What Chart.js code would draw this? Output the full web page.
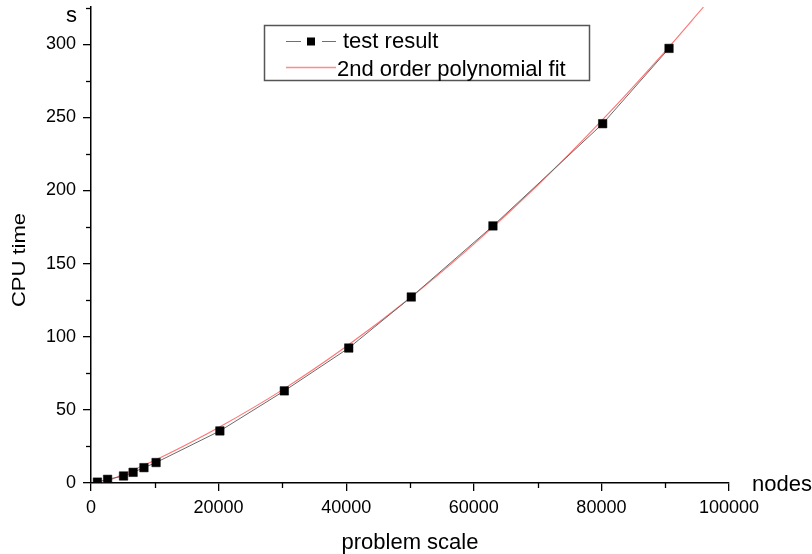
<!DOCTYPE html>
<html><head><meta charset="utf-8">
<script src="https://cdn.jsdelivr.net/npm/chart.js@4.4.0/dist/chart.umd.min.js"></script>
<style>html,body{margin:0;padding:0;background:#fff;} #wrap{width:812px;height:554px;}</style>
</head><body><div id="wrap"><canvas id="c" width="812" height="554"></canvas></div>
<script>
const testNodes = [1000, 2600, 5100, 6600, 8300, 10200, 20200, 30300, 40400, 50200, 63000, 80200, 90600];
const testTime  = [0.6, 2.5, 4.8, 7.3, 10.5, 14.0, 35.6, 63.0, 92.3, 127.2, 175.8, 245.7, 297.2];
const fitNodes  = [1800, 5000, 10000, 15000, 20000, 30000, 40000, 50000, 60000, 70000, 80000, 90000, 96000];
const fitTime   = [0, 5.8, 15.5, 26.3, 37.9, 63.7, 93.3, 126.5, 163.3, 203.6, 247.6, 295.2, 325.5];
const xTicks = [0, 20000, 40000, 60000, 80000, 100000];
const yTicks = [0, 50, 100, 150, 200, 250, 300];
const xMinor = [10000, 30000, 50000, 70000, 90000];
const yMinor = [25, 75, 125, 175, 225, 275, 325];
const legendLabels = ['test result', '2nd order polynomial fit'];
const FONT = '"Liberation Sans", Arial, sans-serif';

const decor = {
  id: 'decor',
  afterDraw(chart) {
    const c = chart.ctx, xs = chart.scales.x, ys = chart.scales.y;
    c.save();
    c.strokeStyle = '#000'; c.lineWidth = 1.3;
    xMinor.forEach(v => { const px = Math.round(xs.getPixelForValue(v)) + 0.5; c.beginPath(); c.moveTo(px, xs.top); c.lineTo(px, xs.top + 5); c.stroke(); });
    yMinor.forEach(v => { const py = Math.round(ys.getPixelForValue(v)) + 0.5; c.beginPath(); c.moveTo(ys.right, py); c.lineTo(ys.right - 5, py); c.stroke(); });
    c.fillStyle = '#000';
    c.font = '22px ' + FONT;
    c.textAlign = 'right'; c.textBaseline = 'alphabetic';
    c.fillText('s', ys.right - 14, ys.top + 15);
    c.textAlign = 'left';
    c.fillText('nodes', xs.right + 23, xs.top + 8);
    c.save();
    c.translate(19.7, (ys.top + ys.bottom) / 2 + 15);
    c.rotate(-Math.PI / 2);
    c.scale(1, 0.8);
    c.textAlign = 'center'; c.textBaseline = 'middle';
    c.fillText('CPU time', 0, 0);
    c.restore();
    // legend
    c.strokeStyle = '#555'; c.lineWidth = 1.5;
    c.strokeRect(264.5, 25.5, 325, 55);
    c.strokeStyle = '#707070'; c.lineWidth = 1;
    c.beginPath(); c.moveTo(286, 41.5); c.lineTo(301, 41.5); c.moveTo(322, 41.5); c.lineTo(336, 41.5); c.stroke();
    c.fillStyle = '#000'; c.fillRect(307, 37.5, 8, 8);
    c.strokeStyle = 'rgba(255,120,120,0.85)'; c.lineWidth = 1.3;
    c.beginPath(); c.moveTo(286, 67.5); c.lineTo(336, 67.5); c.stroke();
    c.fillStyle = '#000'; c.textAlign = 'left'; c.textBaseline = 'alphabetic';
    c.fillText(legendLabels[0], 343, 48);
    c.fillText(legendLabels[1], 337, 76);
    c.restore();
  }
};

new Chart(document.getElementById('c'), {
  type: 'scatter',
  data: { datasets: [
    { label: legendLabels[0], data: testNodes.map((x, i) => ({ x, y: testTime[i] })), showLine: true,
      borderColor: '#6a6a6a', borderWidth: 1, pointStyle: 'rect', pointRadius: 6,
      pointBackgroundColor: '#000', pointBorderColor: '#000', pointBorderWidth: 0.5, order: 0 },
    { label: legendLabels[1], data: fitNodes.map((x, i) => ({ x, y: fitTime[i] })), showLine: true,
      borderColor: 'rgba(255,90,90,0.85)', borderWidth: 1.1, pointRadius: 0, cubicInterpolationMode: 'monotone', order: 1 }
  ]},
  options: {
    responsive: false, animation: false, devicePixelRatio: 1,
    layout: { padding: { top: 7, right: 83, left: 0, bottom: 0 } },
    plugins: { legend: { display: false }, tooltip: { enabled: false } },
    scales: {
      x: { type: 'linear', min: 0, max: 100000,
        afterBuildTicks: s => { s.ticks = xTicks.map(v => ({ value: v })); },
        afterFit: s => { s.height = 71; s.paddingLeft = 0; s.paddingRight = 0; },
        grid: { display: true, drawOnChartArea: false, drawTicks: true, tickLength: 8, color: '#000', lineWidth: 1.3 },
        border: { display: true, color: '#000', width: 1.5 },
        ticks: { color: '#000', font: { family: FONT, size: 18 }, padding: 6, maxRotation: 0, autoSkip: false, callback: v => String(v) },
        title: { display: true, text: 'problem scale', color: '#000', font: { family: FONT, size: 22, lineHeight: 1 }, padding: { top: 0, bottom: 0 } } },
      y: { type: 'linear', min: 0, max: 325.5,
        afterBuildTicks: s => { s.ticks = yTicks.map(v => ({ value: v })); },
        afterFit: s => { s.width = 91; s.paddingTop = 0; s.paddingBottom = 0; },
        grid: { display: true, drawOnChartArea: false, drawTicks: true, tickLength: 8, color: '#000', lineWidth: 1.3 },
        border: { display: true, color: '#000', width: 1.5 },
        ticks: { color: '#000', font: { family: FONT, size: 18 }, padding: 7, autoSkip: false, callback: v => String(v) } }
    }
  },
  plugins: [decor]
});
</script></body></html>
